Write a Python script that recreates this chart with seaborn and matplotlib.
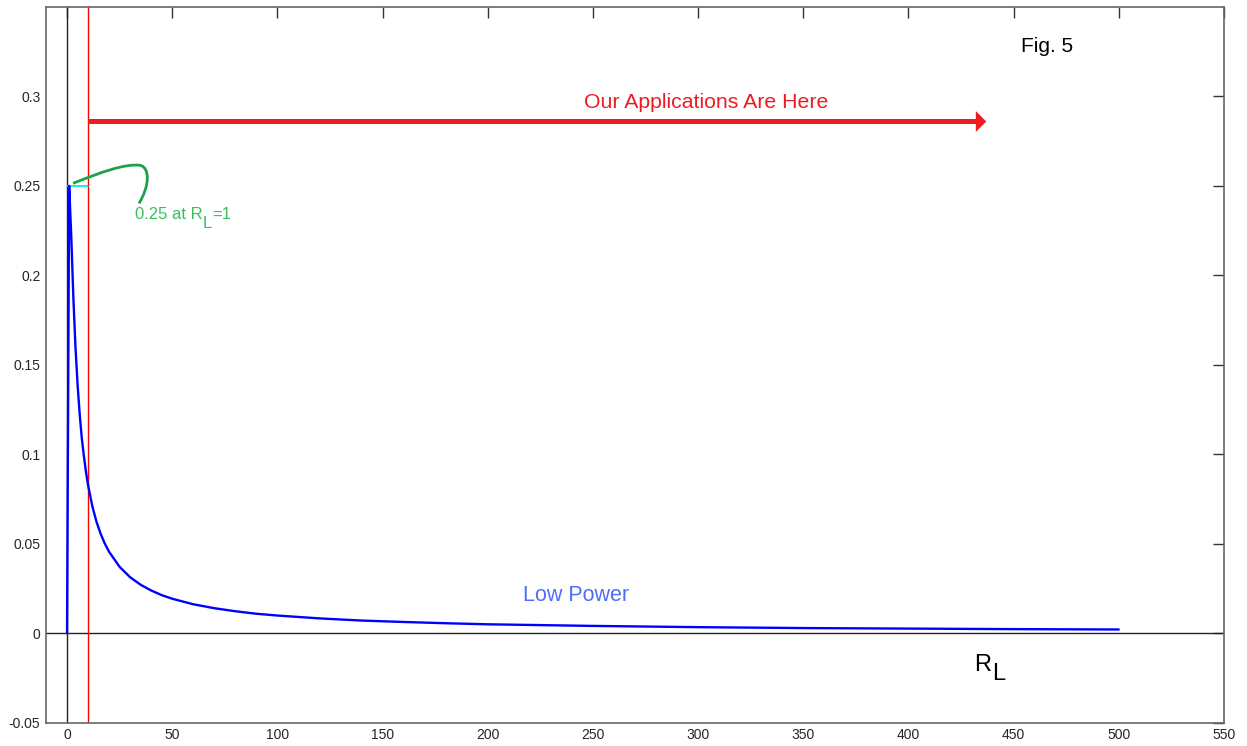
import numpy as np
import pandas as pd
import seaborn as sns
import matplotlib
matplotlib.use("Agg")
import matplotlib.pyplot as plt
from matplotlib.path import Path
from matplotlib.patches import PathPatch

# Load resistance R_L and delivered power
r_load = [0, 1, 2, 3, 4, 5, 6, 7, 8, 9, 10, 12, 14, 16, 18, 20, 25, 30, 35, 40,
          45, 50, 60, 70, 80, 90, 100, 120, 140, 160, 180, 200, 250, 300, 350,
          400, 450, 500]
power = [0.0, 0.25, 0.222, 0.1875, 0.160, 0.139, 0.1225, 0.109, 0.099, 0.090,
         0.0826, 0.071, 0.0622, 0.0554, 0.0499, 0.0454, 0.0370, 0.0312, 0.0270,
         0.0238, 0.0212, 0.0192, 0.0161, 0.0139, 0.0122, 0.0108, 0.0098,
         0.0082, 0.0070, 0.0062, 0.0055, 0.0049, 0.0040, 0.0033, 0.0028,
         0.0025, 0.0022, 0.0020]

x_ticks = [0, 50, 100, 150, 200, 250, 300, 350, 400, 450, 500, 550]
y_ticks = [-0.05, 0, 0.05, 0.1, 0.15, 0.2, 0.25, 0.3]
y_tick_labels = ["-0.05", "0", "0.05", "0.1", "0.15", "0.2", "0.25", "0.3"]

peak_value = 0.25
peak_load = 1
app_start = 10

sns.set_style("white")
plt.rcParams["font.family"] = ["Liberation Sans", "DejaVu Sans"]

fig = plt.figure(figsize=(12.47, 7.46), dpi=100)
ax = fig.add_axes([0.0369, 0.0315, 0.9446, 0.9591])

df = pd.DataFrame({"RL": r_load, "P": power})

# reference axes through the origin
ax.axvline(0, color="#222222", lw=1.0, zorder=1)
ax.axhline(0, color="#222222", lw=1.0, zorder=1)

sns.lineplot(data=df, x="RL", y="P", ax=ax, color="#0000FF", lw=1.7,
             zorder=3, legend=False)

# start of the application region
ax.axvline(app_start, color="#FF0000", lw=1.0, zorder=2)
# peak marker
ax.plot([0, app_start], [peak_value, peak_value], color="#00E5E5", lw=1.2,
        zorder=2)

ax.annotate("", xy=(437, 0.286), xytext=(app_start, 0.286),
            arrowprops=dict(arrowstyle="simple,head_length=0.75,head_width=1.5,"
                                       "tail_width=0.36",
                            lw=0, fc="#ED1C24", ec="none", mutation_scale=10,
                            shrinkA=0, shrinkB=0))
ax.text(304, 0.2968, "Our Applications Are Here", color="#ED1C24",
        fontsize=15.3, ha="center", va="center")

# curved pointer to the maximum
verts = [(2.85, 0.2514), (15.7, 0.2575), (27.6, 0.2626), (34.7, 0.2615),
         (39.4, 0.2603), (39.4, 0.2503), (34.2, 0.2402)]
codes = [Path.MOVETO, Path.CURVE4, Path.CURVE4, Path.CURVE4,
         Path.CURVE4, Path.CURVE4, Path.CURVE4]
ax.add_patch(PathPatch(Path(verts, codes), facecolor="none",
                       edgecolor="#1DA24A", lw=2.0, zorder=4))

green = "#3CBF5A"
t = ax.text(32.3, 0.2338, f"{peak_value:g} at R", color=green, fontsize=12,
            ha="left", va="center")
sub = ax.annotate("L", xy=(1, 0.5), xycoords=t, xytext=(0.3, -6),
                  textcoords="offset points", color=green, fontsize=12,
                  ha="left", va="center")
ax.annotate(f"={peak_load}", xy=(1, 0.5), xycoords=sub, xytext=(0, 6),
            textcoords="offset points", color=green, fontsize=12,
            ha="left", va="center")

ax.text(242, 0.0212, "Low Power", color="#4F6EF7", fontsize=15.5,
        ha="center", va="center")

r = ax.text(435.5, -0.018, "R", color="black", fontsize=17,
            ha="center", va="center")
ax.annotate("L", xy=(1, 0.5), xycoords=r, xytext=(0.5, -6),
            textcoords="offset points", color="black", fontsize=17,
            ha="left", va="center")

ax.text(466, 0.328, "Fig. 5", color="black", fontsize=15,
        ha="center", va="center")

ax.set_xlim(-10, 550)
ax.set_ylim(-0.05, 0.35)
ax.set_xticks(x_ticks)
ax.set_xticklabels([str(t) for t in x_ticks])
ax.set_yticks(y_ticks)
ax.set_yticklabels(y_tick_labels)
ax.set_xlabel("")
ax.set_ylabel("")
ax.tick_params(direction="in", length=8, width=1, color="#333333",
               labelsize=10, top=True, right=True, pad=4)
for side in ax.spines.values():
    side.set_visible(True)
    side.set_color("#666666")
    side.set_linewidth(1.2)

fig.savefig("out.png", dpi=100)
